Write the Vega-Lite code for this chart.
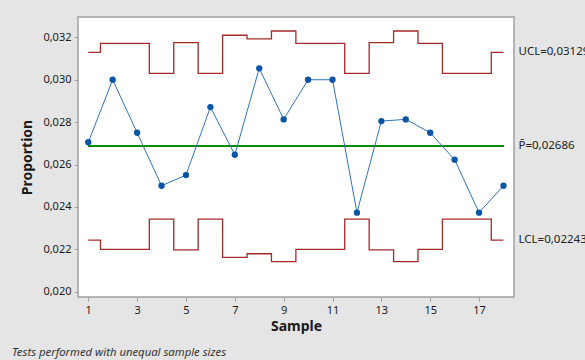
{
  "$schema": "https://vega.github.io/schema/vega-lite/v6.json",
  "autosize": {"type": "none"},
  "padding": {"left": 78, "top": 17, "right": 71, "bottom": 63},
  "width": 436,
  "height": 280,
  "background": "#e5e5e5",
  "title": {
    "text": "Tests performed with unequal sample sizes",
    "orient": "bottom",
    "anchor": "start",
    "frame": "group",
    "dx": -66,
    "offset": 14,
    "font": "Noto Sans",
    "fontSize": 11.3,
    "fontStyle": "italic",
    "fontWeight": "normal",
    "color": "#333333"
  },
  "config": {
    "font": "Noto Sans",
    "view": {"fill": "white", "stroke": "#a0a0a0", "strokeWidth": 1.5},
    "axis": {
      "domain": false,
      "grid": false,
      "tickColor": "#a0a0a0",
      "tickSize": 4,
      "labelFont": "Noto Sans",
      "labelFontSize": 11,
      "labelColor": "#1a1a1a",
      "titleFont": "Noto Sans",
      "titleFontSize": 14,
      "titleFontWeight": "bold",
      "titleColor": "#1a1a1a"
    }
  },
  "datasets": {
    "samples": [
      {"sample": 1, "p": 0.02705, "ucl": 0.03129, "lcl": 0.02243},
      {"sample": 2, "p": 0.0300, "ucl": 0.03172, "lcl": 0.02200},
      {"sample": 3, "p": 0.0275, "ucl": 0.03172, "lcl": 0.02200},
      {"sample": 4, "p": 0.0250, "ucl": 0.03030, "lcl": 0.02342},
      {"sample": 5, "p": 0.0255, "ucl": 0.03175, "lcl": 0.02197},
      {"sample": 6, "p": 0.02871, "ucl": 0.03030, "lcl": 0.02342},
      {"sample": 7, "p": 0.02646, "ucl": 0.03210, "lcl": 0.02162},
      {"sample": 8, "p": 0.03054, "ucl": 0.03193, "lcl": 0.02179},
      {"sample": 9, "p": 0.02813, "ucl": 0.03230, "lcl": 0.02142},
      {"sample": 10, "p": 0.0300, "ucl": 0.03172, "lcl": 0.02200},
      {"sample": 11, "p": 0.0300, "ucl": 0.03172, "lcl": 0.02200},
      {"sample": 12, "p": 0.02373, "ucl": 0.03030, "lcl": 0.02342},
      {"sample": 13, "p": 0.02805, "ucl": 0.03175, "lcl": 0.02197},
      {"sample": 14, "p": 0.02813, "ucl": 0.03230, "lcl": 0.02142},
      {"sample": 15, "p": 0.0275, "ucl": 0.03172, "lcl": 0.02200},
      {"sample": 16, "p": 0.02623, "ucl": 0.03030, "lcl": 0.02342},
      {"sample": 17, "p": 0.02373, "ucl": 0.03030, "lcl": 0.02342},
      {"sample": 18, "p": 0.0250, "ucl": 0.03129, "lcl": 0.02243}
    ],
    "labels": [
      {"label": "UCL=0,03129", "v": 0.03129},
      {"label": "P̄=0,02686", "v": 0.02686},
      {"label": "LCL=0,02243", "v": 0.02243}
    ]
  },
  "data": {"name": "samples"},
  "layer": [
    {
      "mark": {"type": "line", "interpolate": "step", "color": "#a52a2a", "strokeWidth": 1.3},
      "encoding": {
        "x": {
          "field": "sample", "type": "quantitative",
          "scale": {"domain": [0.58, 18.43], "nice": false, "zero": false},
          "axis": {"values": [1, 3, 5, 7, 9, 11, 13, 15, 17], "title": "Sample", "titlePadding": 4, "labelPadding": 3}
        },
        "y": {
          "field": "ucl", "type": "quantitative",
          "scale": {"domain": [0.01975, 0.03296], "nice": false, "zero": false},
          "axis": {
            "values": [0.020, 0.022, 0.024, 0.026, 0.028, 0.030, 0.032],
            "labelExpr": "replace(format(datum.value, '.3f'), '.', ',')",
            "title": "Proportion",
            "titlePadding": 8,
            "labelPadding": 3
          }
        }
      }
    },
    {
      "mark": {"type": "line", "interpolate": "step", "color": "#a52a2a", "strokeWidth": 1.3},
      "encoding": {
        "x": {"field": "sample", "type": "quantitative"},
        "y": {"field": "lcl", "type": "quantitative"}
      }
    },
    {
      "mark": {"type": "rule", "color": "#0a8a0a", "strokeWidth": 1},
      "encoding": {
        "x": {"datum": 1},
        "x2": {"datum": 18},
        "y": {"datum": 0.02686}
      }
    },
    {
      "mark": {"type": "line", "color": "#2f72c0", "strokeWidth": 1,
        "point": {"filled": true, "size": 40, "color": "#0b55a6", "opacity": 1}},
      "encoding": {
        "x": {"field": "sample", "type": "quantitative"},
        "y": {"field": "p", "type": "quantitative"}
      }
    },
    {
      "data": {"name": "labels"},
      "mark": {"type": "text", "align": "left", "baseline": "middle", "dx": 15, "fontSize": 11.5, "color": "#222222"},
      "encoding": {
        "x": {"datum": 18},
        "y": {"field": "v", "type": "quantitative"},
        "text": {"field": "label"}
      }
    }
  ]
}
